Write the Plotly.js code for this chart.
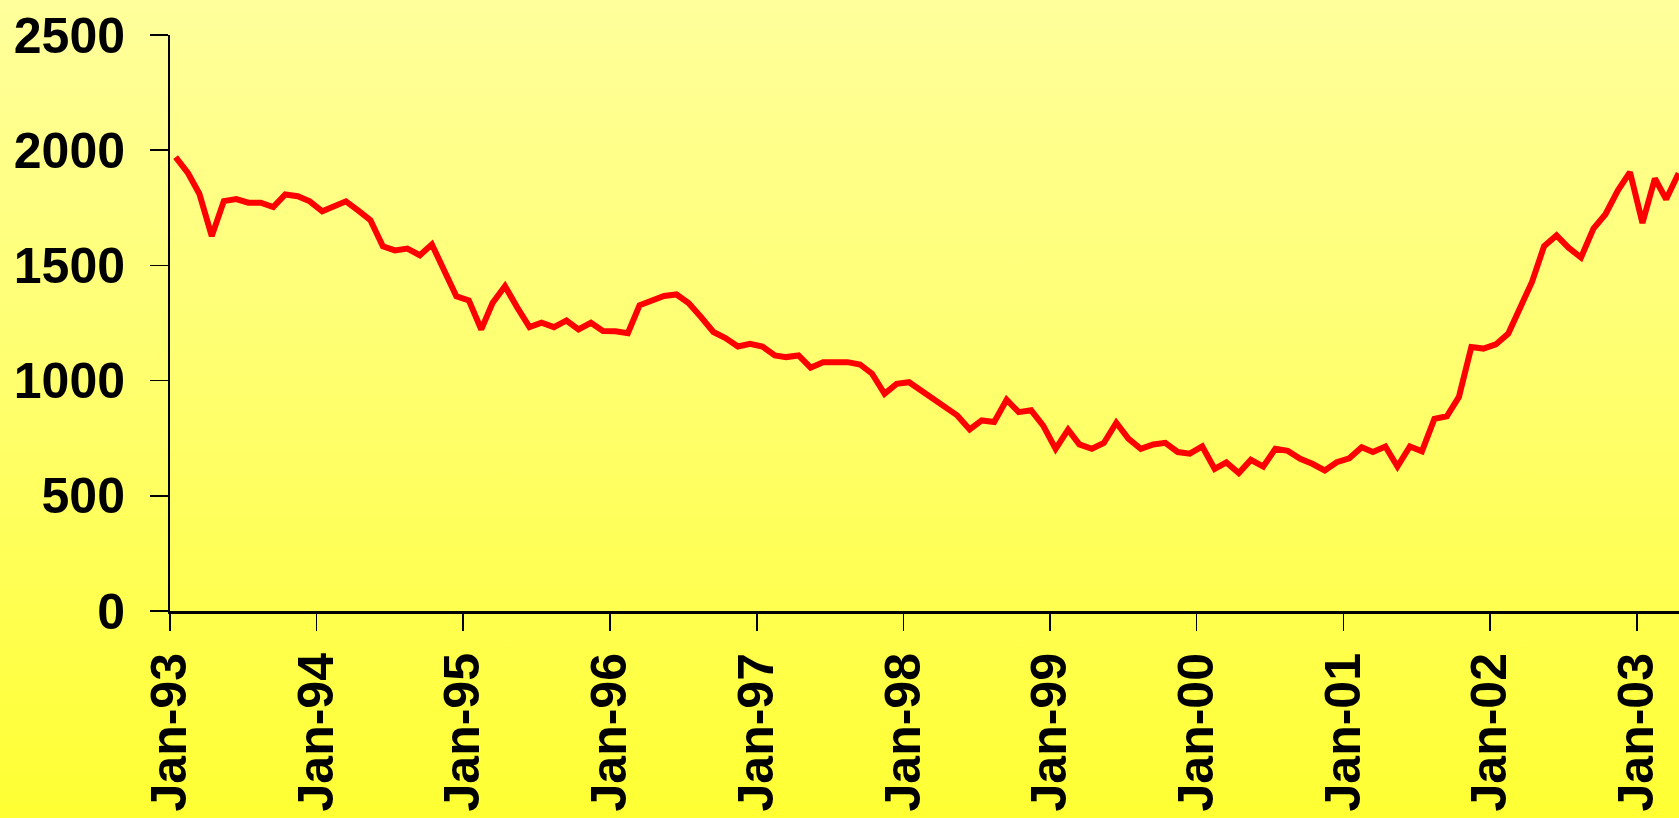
<!DOCTYPE html>
<html>
<head>
<meta charset="utf-8">
<script src="https://cdn.plot.ly/plotly-3.0.1.min.js"></script>
<style>
  html, body { margin: 0; padding: 0; overflow: hidden; }
  body { width: 1679px; height: 818px; background: linear-gradient(to bottom, #FFFF9C 0%, #FFFF66 55%, #FFFF33 100%); }
  #chart { width: 1679px; height: 818px; }
</style>
</head>
<body>
<div id="chart"></div>
<script>
// Monthly observations, Jan-93 .. Apr-03 (plotted mid-month)
const startYear = 1993;
const values1993 = [1970, 1900, 1811, 1627, 1779, 1788, 1772, 1772, 1753, 1808, 1800, 1778];
const values1994 = [1735, 1761, 1778, 1738, 1696, 1583, 1565, 1573, 1544, 1591, 1478, 1366];
const values1995 = [1348, 1222, 1337, 1410, 1319, 1232, 1251, 1232, 1261, 1222, 1251, 1215];
const values1996 = [1214, 1206, 1327, 1348, 1367, 1374, 1337, 1276, 1211, 1185, 1148, 1160];
const values1997 = [1148, 1109, 1102, 1109, 1056, 1080, 1080, 1080, 1070, 1030, 943, 986];
const values1998 = [993, 957, 921, 882, 849, 788, 827, 820, 917, 863, 871, 805];
const values1999 = [704, 787, 723, 704, 729, 817, 748, 704, 723, 730, 690, 683];
const values2000 = [714, 617, 645, 599, 656, 627, 704, 695, 661, 639, 610, 646];
const values2001 = [663, 711, 690, 714, 627, 714, 693, 834, 845, 929, 1146, 1139];
const values2002 = [1157, 1204, 1305, 1428, 1583, 1630, 1577, 1534, 1660, 1722, 1826, 1905];
const values2003 = [1684, 1877, 1787, 1900];

const tickDates = ['1993-01-01','1994-01-01','1995-01-01','1996-01-01','1997-01-01','1998-01-01',
                   '1999-01-01','2000-01-01','2001-01-01','2002-01-01','2003-01-01'];
const tickLabels = ['Jan-93','Jan-94','Jan-95','Jan-96','Jan-97','Jan-98',
                    'Jan-99','Jan-00','Jan-01','Jan-02','Jan-03'];
const yTicks = [0, 500, 1000, 1500, 2000, 2500];

const series = [].concat(values1993, values1994, values1995, values1996, values1997, values1998,
                         values1999, values2000, values2001, values2002, values2003);
const dates = series.map((v, i) => {
  const y = startYear + Math.floor(i / 12);
  const m = (i % 12) + 1;
  return y + '-' + String(m).padStart(2, '0') + '-15';
});

const font = { family: 'Liberation Sans, Arial, sans-serif', size: 50, color: '#000000', weight: 'bold' };

Plotly.newPlot('chart', [{
  x: dates,
  y: series,
  type: 'scatter',
  mode: 'lines',
  line: { color: '#FF0000', width: 6 },
  hoverinfo: 'skip'
}], {
  width: 1679,
  height: 818,
  margin: { l: 170, r: 0, t: 35, b: 207, pad: 0 },
  paper_bgcolor: 'rgba(0,0,0,0)',
  plot_bgcolor: 'rgba(0,0,0,0)',
  showlegend: false,
  xaxis: {
    type: 'date',
    range: ['1993-01-01', '2003-04-16'],
    tickmode: 'array',
    tickvals: tickDates,
    ticktext: tickLabels,
    tickangle: -90,
    ticks: 'outside',
    ticklen: 17,
    tickwidth: 1.5,
    tickcolor: '#000000',
    showline: true,
    linecolor: '#000000',
    linewidth: 3,
    showgrid: false,
    zeroline: false,
    tickfont: font,
    ticklabelstandoff: 2
  },
  yaxis: {
    range: [0, 2500],
    tickmode: 'array',
    tickvals: yTicks,
    ticktext: yTicks.map(String),
    ticks: 'outside',
    ticklen: 18,
    tickwidth: 1.5,
    tickcolor: '#000000',
    showline: true,
    linecolor: '#000000',
    linewidth: 2,
    showgrid: false,
    zeroline: false,
    tickfont: font,
    ticklabelstandoff: 15
  }
}, { displayModeBar: false, staticPlot: true });
</script>
</body>
</html>
